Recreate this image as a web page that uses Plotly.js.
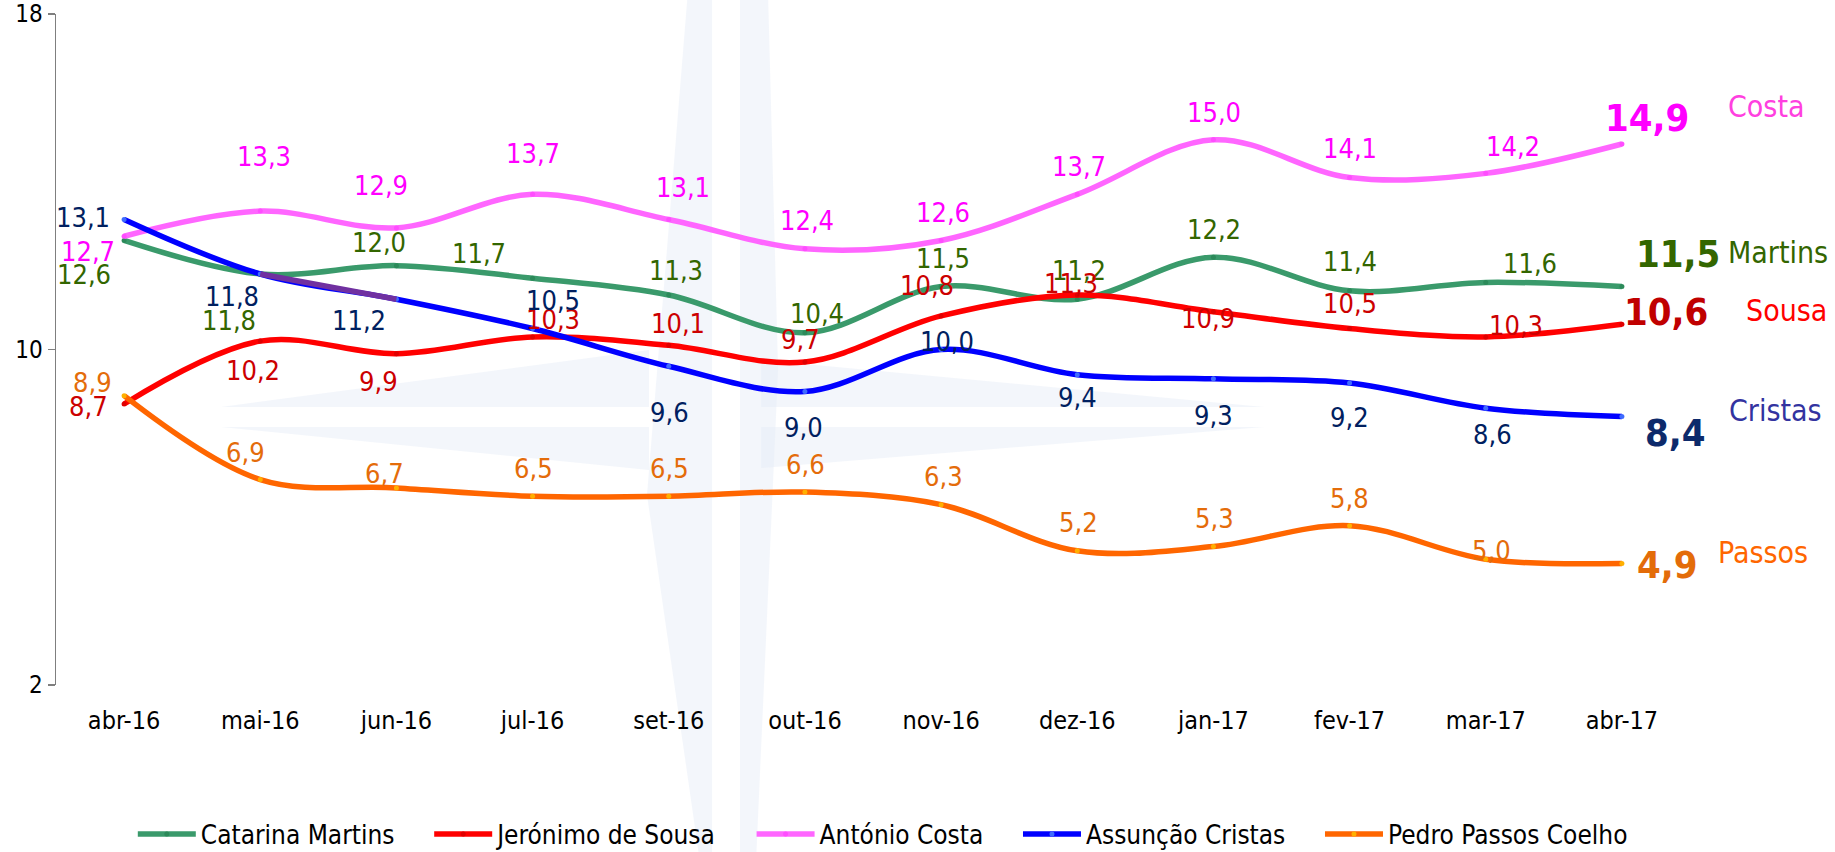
<!DOCTYPE html>
<html>
<head>
<meta charset="utf-8">
<script src="https://cdn.plot.ly/plotly-3.0.1.min.js"></script>
<style>
html,body{margin:0;padding:0;background:#fff;}
#chart{width:1835px;height:852px;}
</style>
</head>
<body>
<div id="chart"></div>
<script>
// ---- data ----
const categories = ['abr-16','mai-16','jun-16','jul-16','set-16','out-16','nov-16','dez-16','jan-17','fev-17','mar-17','abr-17'];
const seriesNames = ['Catarina Martins','Jerónimo de Sousa','António Costa','Assunção Cristas','Pedro Passos Coelho'];
const shortNames = ['Martins','Sousa','Costa','Cristas','Passos'];
const martins = [12.6, 11.8, 12.0, 11.7, 11.3, 10.4, 11.5, 11.2, 12.2, 11.4, 11.6, 11.5];
const sousa   = [8.7, 10.2, 9.9, 10.3, 10.1, 9.7, 10.8, 11.3, 10.9, 10.5, 10.3, 10.6];
const costa   = [12.7, 13.3, 12.9, 13.7, 13.1, 12.4, 12.6, 13.7, 15.0, 14.1, 14.2, 14.9];
const cristas = [13.1, 11.8, 11.2, 10.5, 9.6, 9.0, 10.0, 9.4, 9.3, 9.2, 8.6, 8.4];
const passos  = [8.9, 6.9, 6.7, 6.5, 6.5, 6.6, 6.3, 5.2, 5.3, 5.8, 5.0, 4.9];
const yTicks = [2, 10, 18];

// ---- styles / label placement (pixels) ----
const FONT = '"DejaVu Sans Condensed", "DejaVu Sans", sans-serif';
const lineColors   = ['#3A9A6B', '#FF0000', '#FF66FF', '#0000FF', '#FF6600'];
const markerColors = ['#2C8A5A', '#E00000', '#FF4DFF', '#3F6BFF', '#FFB000'];
const labelColors  = ['#336600', '#CC0000', '#FF00FF', '#002060', '#E46C0A'];
const bigColors    = ['#336600', '#C00000', '#FF00FF', '#0D2A6B', '#E36C09'];
const nameColors   = ['#336600', '#FF0000', '#FF40E0', '#3333A0', '#FF6600'];
const labelOffsets = [
  [[-40,-34],[-31,-46],[-17,23],[-54,25],[7,24],[12,19],[2,28],[2,29],[1,28],[0,29],[44,19]],
  [[-36,-2],[-7,-29],[-18,-28],[20,17],[9,22],[-4,23],[-14,30],[-6,11],[-5,-7],[0,25],[30,11]],
  [[-36,-15],[4,55],[-15,42],[0,41],[14,32],[2,28],[2,28],[2,28],[1,27],[0,29],[27,27]],
  [[-41,2],[-28,-22],[-37,-21],[20,28],[1,-46],[-1,-36],[6,8],[0,-23],[0,-37],[0,-34],[7,-26]],
  [[-32,13],[-15,27],[-12,14],[1,28],[1,28],[1,28],[2,28],[1,28],[1,28],[0,27],[6,9]]
];
const bigOffsets  = [[56,33],[44,12],[25,26],[54,-16],[46,-2]];
const nameOffsets = [[104,34],[122,14],[104,38],[105,6],[94,11]];

const allSeries = [martins, sousa, costa, cristas, passos];
const fmt = v => v.toFixed(1).replace('.', ',');
const PAD = '\u00a0\u00a0\u00a0\u00a0';

const traces = allSeries.map((s, k) => ({
  type: 'scatter',
  mode: 'lines+markers',
  name: seriesNames[k] + (k < allSeries.length - 1 ? PAD : ''),
  x: categories,
  y: s,
  line: {color: lineColors[k], width: 5.5, shape: 'spline', smoothing: 1},
  marker: {color: markerColors[k], size: 5},
  hoverinfo: 'skip'
}));
// purple highlighted segment of Cristas (mai-16 to jun-16)
traces.splice(4, 0, {
  type: 'scatter', mode: 'lines', showlegend: false,
  x: categories.slice(1, 3), y: cristas.slice(1, 3),
  line: {color: '#7030A0', width: 5.5}, hoverinfo: 'skip'
});

const annotations = [];
const last = categories.length - 1;
allSeries.forEach((s, k) => {
  s.forEach((v, i) => {
    if (i === last) return;
    const off = labelOffsets[k][i];
    annotations.push({
      x: categories[i], y: v, xref: 'x', yref: 'y',
      text: fmt(v), showarrow: false,
      xshift: off[0], yshift: off[1],
      font: {family: FONT, size: 27, color: labelColors[k]}
    });
  });
  annotations.push({
    x: categories[last], y: s[last], xref: 'x', yref: 'y',
    text: '<b>' + fmt(s[last]) + '</b>', showarrow: false,
    xshift: bigOffsets[k][0], yshift: bigOffsets[k][1],
    font: {family: FONT, size: 38, color: bigColors[k]}
  });
  annotations.push({
    x: categories[last], y: s[last], xref: 'x', yref: 'y',
    text: shortNames[k], showarrow: false, xanchor: 'left',
    xshift: nameOffsets[k][0], yshift: nameOffsets[k][1],
    font: {family: FONT, size: 30, color: nameColors[k]}
  });
});

// faint compass-rose watermark (pixel coords -> paper)
const L = 56, R = 1690, T = 14, B = 685;
const px = x => ((x - L) / (R - L)).toFixed(4);
const py = y => ((B - y) / (B - T)).toFixed(4);
const poly = pts => 'M' + pts.map(p => px(p[0]) + ',' + py(p[1])).join(' L') + ' Z';
const wm = [
  [[712,-10],[688,-10],[647,495],[700,862],[712,862]],
  [[740,-10],[768,-10],[778,370],[756,862],[740,862]],
  [[221,407],[649,407],[649,350]],
  [[221,427],[649,427],[649,470]],
  [[761,407],[1264,407],[761,360]],
  [[761,427],[1264,427],[761,468]]
];
const shapes = wm.map(p => ({
  type: 'path', xref: 'paper', yref: 'paper', layer: 'below',
  path: poly(p), fillcolor: 'rgba(228,235,246,0.45)', line: {width: 0}
}));

const boundaryTicks = categories.map((c, i) => i - 0.5).concat([categories.length - 0.5]);

const layout = {
  width: 1835, height: 852,
  margin: {l: L, r: 1835 - R, t: T, b: 852 - B, autoexpand: false},
  paper_bgcolor: '#ffffff', plot_bgcolor: 'rgba(0,0,0,0)',
  font: {family: FONT, size: 25, color: '#000'},
  showlegend: true,
  legend: {
    orientation: 'h', x: 0.506, xanchor: 'center',
    yref: 'container', y: 18 / 852, yanchor: 'middle',
    itemwidth: 58,
    font: {family: FONT, size: 26, color: '#000'},
    bgcolor: 'rgba(0,0,0,0)'
  },
  xaxis: {
    type: 'category', range: [-0.5, categories.length - 0.5],
    showline: false, ticks: '', showgrid: false, zeroline: false,
    ticklabelstandoff: 18, automargin: false,
    tickfont: {family: FONT, size: 25, color: '#000'}, fixedrange: true
  },
  xaxis2: {
    overlaying: 'x', anchor: 'free', position: 0.5,
    range: [-0.5, categories.length - 0.5], type: 'linear',
    tickmode: 'array', tickvals: boundaryTicks, showticklabels: false,
    ticks: 'outside', ticklen: 8, tickwidth: 1.5, tickcolor: '#7F7F7F',
    showline: true, linecolor: '#7F7F7F', linewidth: 1.5,
    showgrid: false, zeroline: false
  },
  yaxis: {
    range: [2, 18], tickmode: 'array', tickvals: yTicks, ticktext: yTicks.map(String),
    showline: true, linecolor: '#7F7F7F', linewidth: 1.5,
    ticks: 'outside', ticklen: 7, tickwidth: 1.5, tickcolor: '#7F7F7F',
    showgrid: false, zeroline: false, automargin: false,
    tickfont: {family: FONT, size: 24, color: '#000'}
  },
  annotations: annotations,
  shapes: shapes
};

Plotly.newPlot('chart', traces, layout, {displayModeBar: false, staticPlot: true});
</script>
</body>
</html>
